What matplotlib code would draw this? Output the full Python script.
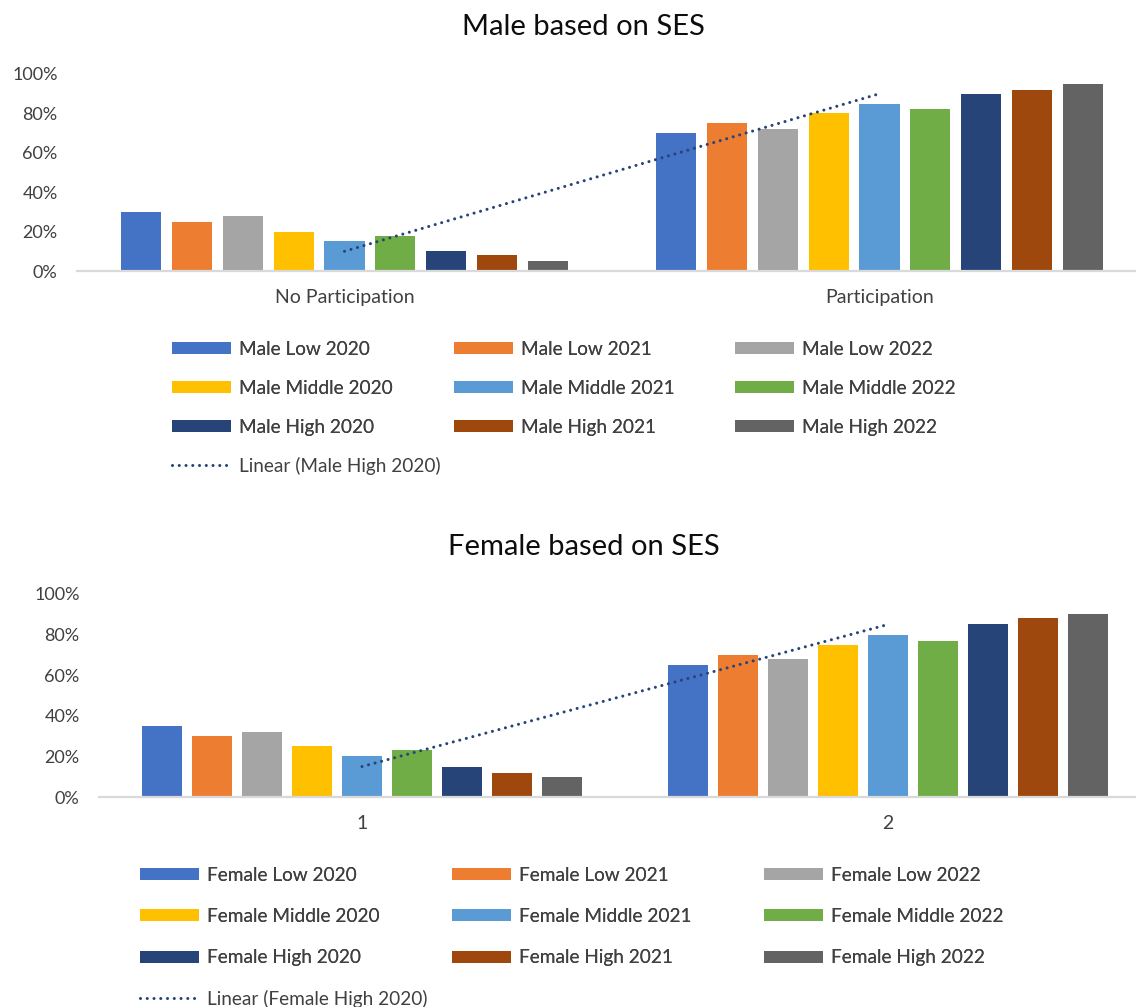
import matplotlib
matplotlib.use('Agg')
import matplotlib.pyplot as plt
import numpy as np
from matplotlib.lines import Line2D
from matplotlib.patches import Patch
from matplotlib.ticker import PercentFormatter

plt.rcParams['font.family'] = ['Lato', 'DejaVu Sans']

# data (percent)
levels = ['Low', 'Middle', 'High']
years = ['2020', '2021', '2022']
colors = ['#4472C4', '#ED7D31', '#A5A5A5', '#FFC000', '#5B9BD5', '#70AD47',
          '#264478', '#9E480E', '#636363']

male_categories = ['No Participation', 'Participation']
male_values = [
    [30, 70],  # Low 2020
    [25, 75],  # Low 2021
    [28, 72],  # Low 2022
    [20, 80],  # Middle 2020
    [15, 85],  # Middle 2021
    [18, 82],  # Middle 2022
    [10, 90],  # High 2020
    [8, 92],   # High 2021
    [5, 95],   # High 2022
]

female_categories = ['1', '2']
female_values = [
    [35, 65],
    [30, 70],
    [32, 68],
    [25, 75],
    [20, 80],
    [23, 77],
    [15, 85],
    [12, 88],
    [10, 90],
]

TEXT = '#404040'
AXIS = '#D9D9D9'
TREND = '#264478'
W, H = 1136, 1007
DOTS = (0, (0.01, 2.2))


def px_box(left, top, right, bottom):
    return [left / W, 1 - bottom / H, (right - left) / W, (bottom - top) / H]


def draw_panel(fig, rect, title, title_y, categories, values, gender,
               legend_xy, col_gap, row_gap, trend_dy):
    ax = fig.add_axes(rect)
    x = np.arange(len(categories))
    slot, width = 0.095, 0.075
    names = [f'{gender} {lv} {yr}' for lv in levels for yr in years]
    handles = []
    for i, (vals, c) in enumerate(zip(values, colors)):
        off = (i - (len(values) - 1) / 2) * slot
        ax.bar(x + off, vals, width, color=c, zorder=2)
        handles.append(Patch(facecolor=c))

    # linear trendline of the "High 2020" series, as Excel draws it
    high = np.array(values[6], dtype=float)
    k, b = np.polyfit(x + 1, high, 1)
    ax.plot(x, k * (x + 1) + b, color=TREND, lw=2.2, ls=DOTS,
            dash_capstyle='round', zorder=3)

    ax.set_xlim(-0.5, len(categories) - 0.5)
    ax.set_ylim(0, 100)
    ax.set_yticks(np.arange(0, 101, 20))
    ax.yaxis.set_major_formatter(PercentFormatter(decimals=0))
    ax.set_xticks(x)
    ax.set_xticklabels(categories)
    ax.tick_params(length=0, colors=TEXT)
    ax.tick_params(axis='y', pad=14, labelsize=13)
    ax.tick_params(axis='x', pad=13, labelsize=14)
    for s in ['top', 'right', 'left']:
        ax.spines[s].set_visible(False)
    ax.spines['bottom'].set_color(AXIS)
    ax.spines['bottom'].set_linewidth(1.6)
    ax.spines['bottom'].set_zorder(4)

    fig.text(0.514, 1 - title_y / H, title, ha='center', va='center',
             fontsize=21, color='#0d0d0d')

    order = [0, 3, 6, 1, 4, 7, 2, 5, 8]
    lx, ly = legend_xy
    leg = fig.legend([handles[i] for i in order], [names[i] for i in order],
                     loc='upper left', bbox_to_anchor=(lx / W, 1 - ly / H),
                     ncol=3, frameon=False, fontsize=13.7, labelcolor=TEXT,
                     handlelength=3.1, handleheight=0.6, handletextpad=0.42,
                     columnspacing=col_gap, labelspacing=row_gap,
                     borderpad=0, borderaxespad=0)
    fig.add_artist(leg)
    trend_handle = Line2D([], [], color=TREND, lw=2.2, ls=DOTS,
                          dash_capstyle='round')
    fig.legend([trend_handle], [f'Linear ({gender} High 2020)'],
               loc='upper left', bbox_to_anchor=(lx / W, 1 - (ly + trend_dy) / H),
               frameon=False, fontsize=13.7, labelcolor=TEXT,
               handlelength=3.1, handletextpad=0.42, borderpad=0, borderaxespad=0)
    return ax


fig = plt.figure(figsize=(W / 100, H / 100), dpi=100)

draw_panel(fig, px_box(77, 74, 1147, 271), 'Male based on SES', 27,
           male_categories, male_values, 'Male', (172, 341), 3.2, 1.16, 116)
draw_panel(fig, px_box(99, 594, 1151, 797), 'Female based on SES', 547,
           female_categories, female_values, 'Female', (140, 867), 3.8, 1.27, 123)

fig.savefig('out.png', dpi=100, facecolor='white')
